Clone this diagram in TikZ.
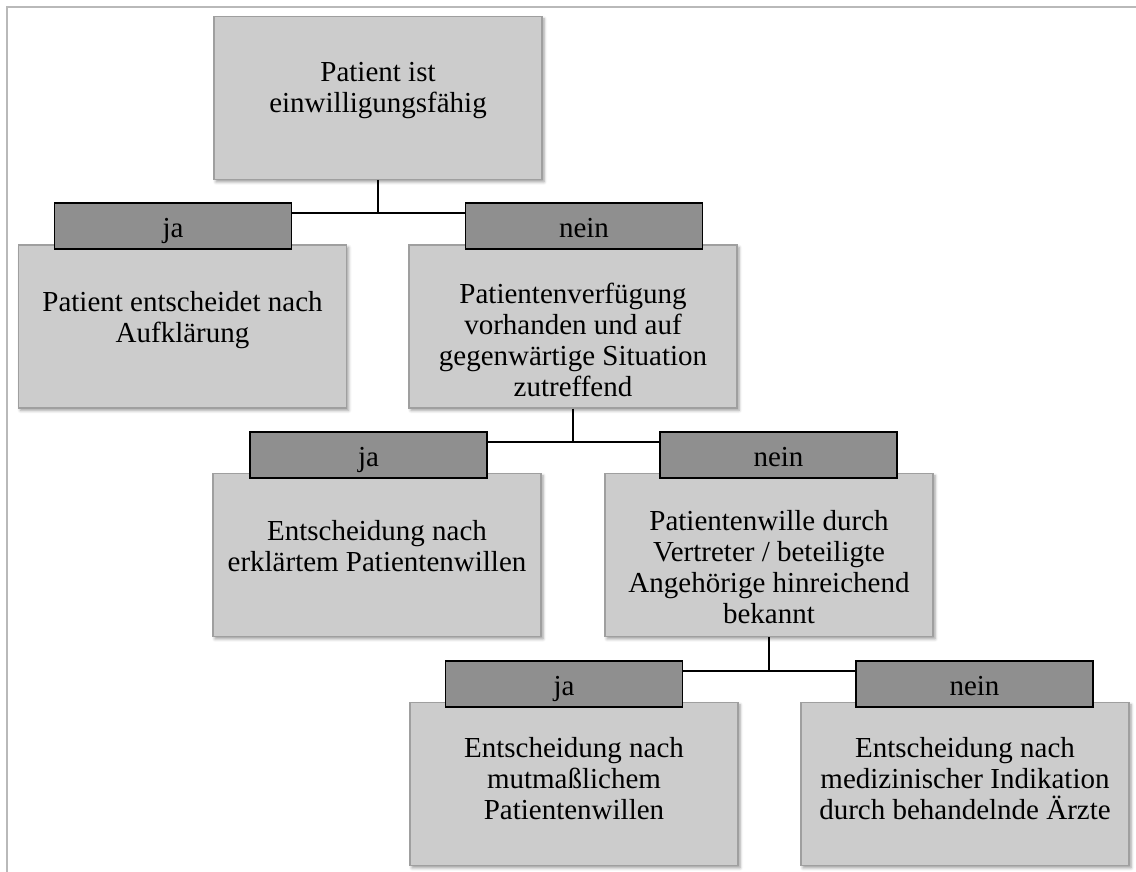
\documentclass[tikz,border=0pt]{standalone}
\usepackage{fontspec}
\setmainfont{Liberation Serif}
\usetikzlibrary{shadows.blur}

\begin{document}
\begin{tikzpicture}[x=0.5pt,y=-0.5pt,
    entry/.style={draw=gray!75,line width=0.7pt,fill=gray!40,minimum width=164pt,minimum height=81.5pt,
      blur shadow={shadow xshift=1pt,shadow yshift=-1.2pt,shadow blur radius=1.5pt,shadow opacity=40}},
    words/.style={align=center,inner sep=0pt,font=\fontsize{14.5}{15.5}\selectfont,
      execute at begin node=\strut,execute at end node=\strut},
    tag/.style={draw=black,line width=0.9pt,fill=gray!88,minimum width=118.5pt,minimum height=23pt,
      inner sep=0pt,text height=14pt,text depth=3pt,font=\fontsize{14.5}{15.5}\selectfont},
    link/.style={line width=0.9pt}]
      \useasboundingbox (0,0) rectangle (1136,872);
      \draw[gray!55,line width=1pt] (7,872) -- (7,7) -- (1136,7);

      % boxes
      \node at (378,98) [entry] (ask1) {};
      \node at (182.5,326.5) [entry] (self) {};
      \node at (573,326.5) [entry] (ask2) {};
      \node at (377,555) [entry] (will) {};
      \node at (769,555) [entry] (ask3) {};
      \node at (574,784) [entry] (guess) {};
      \node at (965,784) [entry] (doc) {};

      % their texts
      \node at (378,92.3) [words] (ask1t) {Patient ist\\einwilligungsfähig};
      \node at (182.5,321.3) [words] (selft) {Patient entscheidet nach\\Aufklärung};
      \node at (573,344) [words] (ask2t) {Patientenverfügung\\vorhanden und auf\\gegenwärtige Situation\\zutreffend};
      \node at (377,550.3) [words] (willt) {Entscheidung nach\\erklärtem Patientenwillen};
      \node at (769,572) [words] (ask3t) {Patientenwille durch\\Vertreter / beteiligte\\Angehörige hinreichend\\bekannt};
      \node at (574,782.8) [words] (guesst) {Entscheidung nach\\mutmaßlichem\\Patientenwillen};
      \node at (965,782.8) [words] (doct) {Entscheidung nach\\medizinischer Indikation\\durch behandelnde Ärzte};

      % ja / nein tags
      \node at (173,226) [tag] (ja1) {ja};
      \node at (584,226) [tag] (nein1) {nein};
      \node at (368.5,455) [tag] (ja2) {ja};
      \node at (778.5,455) [tag] (nein2) {nein};
      \node at (564,684) [tag] (ja3) {ja};
      \node at (974.5,684) [tag] (nein3) {nein};

      \coordinate (fork1) at (378,213);
      \coordinate (fork2) at (573,442);
      \coordinate (fork3) at (769,671);

      \draw[link] (ask1.south) -- (fork1);
      \draw[link] (ja1.east |- fork1) -- (nein1.west |- fork1);
      \draw[link] (ask2.south) -- (fork2);
      \draw[link] (ja2.east |- fork2) -- (nein2.west |- fork2);
      \draw[link] (ask3.south) -- (fork3);
      \draw[link] (ja3.east |- fork3) -- (nein3.west |- fork3);
    \end{tikzpicture}
\end{document}
